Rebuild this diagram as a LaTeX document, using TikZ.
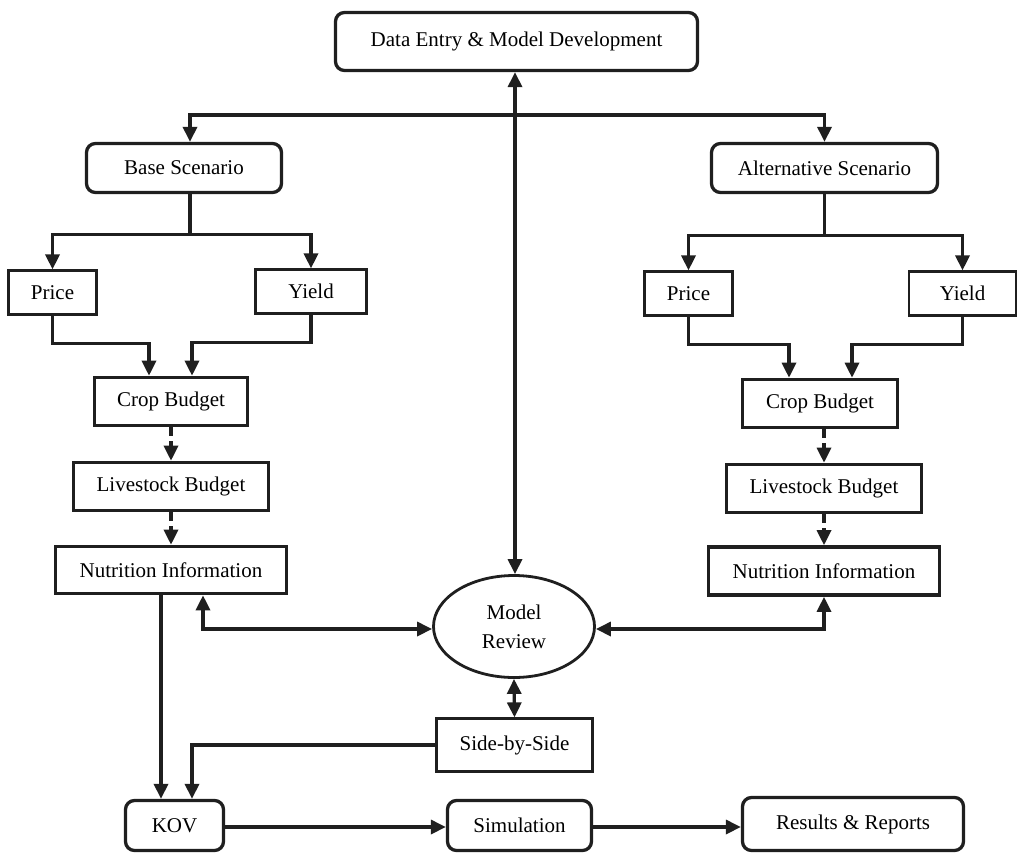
\documentclass[tikz,border=0pt]{standalone}
\usepackage{fontspec}
\setmainfont{Liberation Serif}
\usetikzlibrary{arrows.meta,shapes.geometric,calc}
\begin{document}
\begin{tikzpicture}[x=1pt,y=-1pt,
  Tri/.tip={Triangle[length=15pt,width=14pt]},
  every node/.style={font=\fontsize{21}{29}\selectfont, inner sep=0pt, align=center},
  rbox/.style={draw=black!88, line width=3.3pt, rounded corners=9pt},
  kbox/.style={draw=black!88, line width=3.6pt},
  tbox/.style={draw=black!88, line width=2.2pt},
  arr/.style={draw=black!88, line width=3.3pt},
  dsh/.style={arr, dash pattern=on 9pt off 5pt}
]
\useasboundingbox (0,0) rectangle (1019,854);

\node[rbox, minimum width=362pt, minimum height=58pt] (data) at (516.5,41.5) {Data Entry \& Model Development};
\node[rbox, minimum width=195pt, minimum height=49pt] (base) at (184,168) {Base Scenario};
\node[rbox, minimum width=226pt, minimum height=49pt] (alt) at (824.5,168) {Alternative Scenario};
\node[tbox, minimum width=88pt, minimum height=44pt] (priceL) at (52.5,292.5) {Price};
\node[tbox, minimum width=111pt, minimum height=44pt] (yieldL) at (311,291.5) {Yield};
\node[kbox, minimum width=153pt, minimum height=48pt] (cropL) at (171,401.5) {Crop Budget};
\node[kbox, minimum width=195pt, minimum height=48pt] (liveL) at (171,486.5) {Livestock Budget};
\node[kbox, minimum width=231pt, minimum height=47pt] (nutL) at (171,570) {Nutrition Information};
\node[tbox, minimum width=88pt, minimum height=44pt] (priceR) at (688.5,293.5) {Price};
\node[tbox, minimum width=107pt, minimum height=44pt] (yieldR) at (962.5,293.5) {Yield};
\node[kbox, minimum width=155pt, minimum height=48pt] (cropR) at (820,403.5) {Crop Budget};
\node[kbox, minimum width=195pt, minimum height=48pt] (liveR) at (824,488.5) {Livestock Budget};
\node[kbox, minimum width=231pt, minimum height=48pt] (nutR) at (824,571) {Nutrition Information};
\node[ellipse, draw=black!88, line width=2.8pt, minimum width=161pt, minimum height=102pt] (model) at (514,626.5) {Model\\Review};
\node[tbox, minimum width=156pt, minimum height=53pt] (side) at (514.5,745) {Side-by-Side};
\node[rbox, minimum width=98pt, minimum height=50pt] (kov) at (174.5,825.5) {KOV};
\node[rbox, minimum width=144pt, minimum height=50pt] (sim) at (519.5,825.5) {Simulation};
\node[rbox, minimum width=221pt, minimum height=53pt] (res) at (853,824) {Results \& Reports};

\coordinate (top) at (515,115);
\draw[arr, {Tri}-{Tri}] (data.south -| top) -- (model.north -| top);
\draw[arr, {Tri}-{Tri}] ([xshift=6pt]base.north) |- (top) -| (alt.north);

\draw[arr] ([xshift=6pt]base.south) -- ++(0,40) coordinate (bj);
\draw[arr, -{Tri}] (bj) -| (priceL.north);
\draw[arr, -{Tri}] (bj) -| (yieldL.north);
\draw[arr] (alt.south) -- ++(0,41) coordinate (aj);
\draw[arr, -{Tri}] (aj) -| (priceR.north);
\draw[arr, -{Tri}] (aj) -| (yieldR.north);

\draw[arr, -{Tri}] (priceL.south) -- ++(0,28) -| ([xshift=-22pt]cropL.north);
\draw[arr, -{Tri}] (yieldL.south) -- ++(0,28) -| ([xshift=21pt]cropL.north);
\draw[arr, -{Tri}] (priceR.south) -- ++(0,28) -| ([xshift=-31pt]cropR.north);
\draw[arr, -{Tri}] (yieldR.south) -- ++(0,28) -| ([xshift=32pt]cropR.north);

\draw[dsh, -{Tri}] (cropL.south) -- (liveL.north);
\draw[dsh, -{Tri}] (liveL.south) -- (nutL.north);
\draw[dsh, -{Tri}] (cropR.south -| liveR.north) -- (liveR.north);
\draw[dsh, -{Tri}] (liveR.south) -- (nutR.north);

\draw[arr, -{Tri}] ([xshift=-10pt]nutL.south) -- ([xshift=-10pt]nutL.south |- kov.north);
\draw[arr, -{Tri}] (side.west) -| ([xshift=17.5pt]kov.north);
\draw[arr, {Tri}-{Tri}] ([xshift=32pt]nutL.south) |- ([yshift=-2.5pt]model.west);
\draw[arr, {Tri}-{Tri}] (nutR.south) |- ([yshift=-2.5pt]model.east);
\draw[arr, {Tri}-{Tri}] (model.south) -- (side.north);

\draw[arr, -{Tri}] ([yshift=-1.5pt]kov.east) -- ([yshift=-1.5pt]sim.west);
\draw[arr, -{Tri}] ([yshift=-1.5pt]sim.east) -- ([yshift=-1.5pt]sim.east -| res.west);
\end{tikzpicture}
\end{document}
